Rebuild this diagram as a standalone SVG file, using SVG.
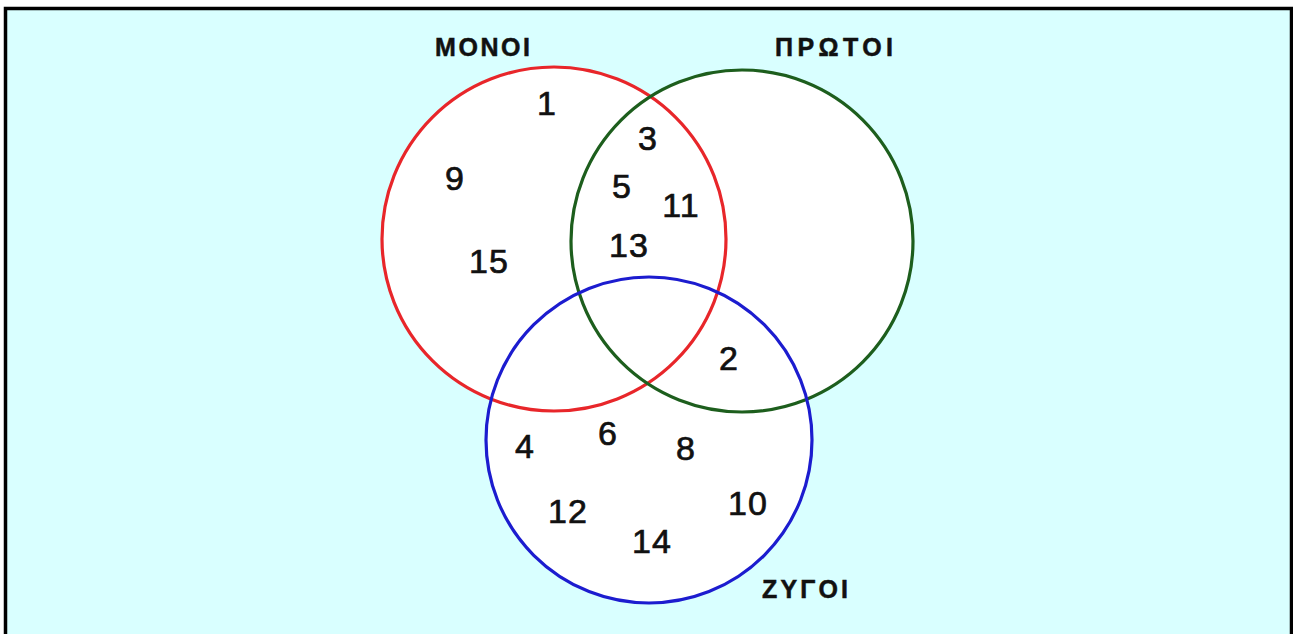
<svg xmlns="http://www.w3.org/2000/svg" width="1293" height="634" viewBox="0 0 1293 634">
<style>
.fill{fill:#ffffff;stroke:none}
.ring{fill:none;stroke-width:3.2}
.num{font-family:"Liberation Sans",Arial,sans-serif;font-size:34px;fill:#111;stroke:#111;stroke-width:0.7;text-anchor:middle;letter-spacing:1px}
.lbl{font-family:"Liberation Sans",Arial,sans-serif;font-size:25px;font-weight:bold;fill:#111;stroke:#111;stroke-width:0.5}
</style>
<rect x="0" y="0" width="1293" height="634" fill="#ffffff"/>
<rect x="5.5" y="8.5" width="1286" height="640" fill="#d9ffff" stroke="#000" stroke-width="3.5"/>
<g id="fills">
<circle class="fill" cx="554" cy="239" r="172"/>
<circle class="fill" cx="742" cy="241" r="171"/>
<circle class="fill" cx="649" cy="440" r="163"/>
</g>
<g id="monoi">
<circle class="ring" cx="554" cy="239" r="172" stroke="#e8262a"/>
<text class="lbl" x="435" y="56" textLength="95" lengthAdjust="spacing">ΜΟΝΟΙ</text>
</g>
<g id="protoi">
<circle class="ring" cx="742" cy="241" r="171" stroke="#1d5e1d"/>
<text class="lbl" x="775" y="56" textLength="118" lengthAdjust="spacing">ΠΡΩΤΟΙ</text>
</g>
<g id="zygoi">
<circle class="ring" cx="649" cy="440" r="163" stroke="#1c1ccf"/>
<text class="lbl" x="762" y="598" textLength="86" lengthAdjust="spacing">ΖΥΓΟΙ</text>
</g>
<g id="numbers">
<text class="num" x="547" y="115">1</text>
<text class="num" x="455" y="190">9</text>
<text class="num" x="489" y="273">15</text>
<text class="num" x="648" y="150">3</text>
<text class="num" x="622" y="198">5</text>
<text class="num" x="681" y="217">11</text>
<text class="num" x="629" y="257">13</text>
<text class="num" x="729" y="370">2</text>
<text class="num" x="525" y="458">4</text>
<text class="num" x="608" y="445">6</text>
<text class="num" x="686" y="460">8</text>
<text class="num" x="568" y="523">12</text>
<text class="num" x="652" y="553">14</text>
<text class="num" x="748" y="515">10</text>
</g>
</svg>
